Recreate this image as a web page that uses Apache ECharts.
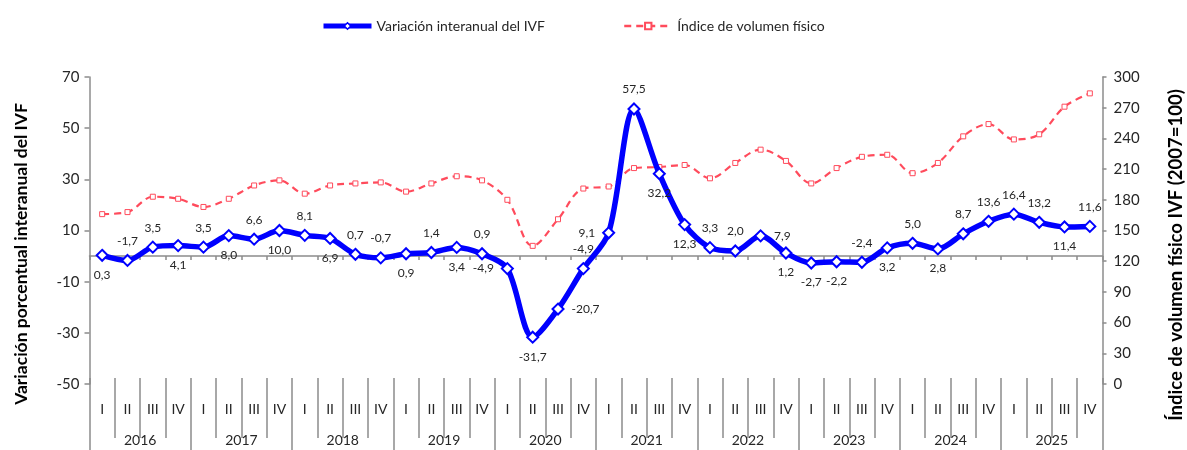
<!DOCTYPE html>
<html>
<head>
<meta charset="utf-8">
<script src="https://cdn.jsdelivr.net/npm/echarts@6/dist/echarts.min.js"></script>
<style>
    html, body {margin: 0; padding: 0; background: #fff;}
    #chart {width: 1187px; height: 450px;}
</style>
</head>
<body>
<div id="chart"></div>
<script>
var FONT = 'Lato';
var quarters = ['I', 'II', 'III', 'IV'];
var years = ['2016', '2017', '2018', '2019', '2020', '2021', '2022', '2023', '2024', '2025'];
// variación interanual (%)
var variacion = [0.3, -1.7, 3.5, 4.1, 3.5, 8.0, 6.6, 10.0, 8.1, 6.9, 0.7, -0.7, 0.9, 1.4, 3.4, 0.9,
    -4.9, -31.7, -20.7, -4.9, 9.1, 57.5, 32.2, 12.3, 3.3, 2.0, 7.9, 1.2, -2.7, -2.2, -2.4, 3.2,
    5.0, 2.8, 8.7, 13.6, 16.4, 13.2, 11.4, 11.6];
// índice de volumen físico (2007=100)
var indice = [166, 168, 183, 181, 173, 181, 194, 199, 186, 194, 196, 197, 188, 196, 203, 199,
    180, 135, 161, 191, 193, 211, 212, 214, 201, 216, 229, 218, 196, 211, 222, 224,
    206, 216, 242, 254, 239, 244, 271, 284];
// lado de la etiqueta de cada punto
var labelSide = ['bottom', 'top', 'top', 'bottom', 'top', 'bottom', 'top', 'bottom', 'top', 'bottom',
    'top', 'top', 'bottom', 'top', 'bottom', 'top', 'left', 'bottom', 'right', 'top',
    'left', 'top', 'bottom', 'bottom', 'top', 'top', 'right', 'bottom', 'bottom', 'bottom',
    'top', 'bottom', 'top', 'bottom', 'top', 'top', 'top', 'top', 'bottom', 'top'];

var categories = [];
years.forEach(function(y){
    quarters.forEach(function(q){
        categories.push(y + ' ' + q);
    });
});
var quarterLabels = [];
years.forEach(function(){
    quarterLabels = quarterLabels.concat(quarters);
});

function fmt(v){
    return v.toFixed(1).replace('.', ',');
}

var AXIS_COLOR = '#8c8c8c';
var TEXT_COLOR = '#262626';
var BLUE = '#0000FF';
var RED = '#FF4B5C';

var variacionData = variacion.map(function(v, i){
    return {
        value: v,
        label: {position: labelSide[i]}
    };
});

var myChart = echarts.init(document.getElementById('chart'));
var option = {
    animation: false,
    textStyle: {fontFamily: FONT},
    legend: {
        top: 14,
        left: 316,
        itemWidth: 48,
        itemHeight: 8,
        itemGap: 78,
        textStyle: {fontFamily: FONT, fontSize: 14, color: TEXT_COLOR},
        data: [{
            name: 'Variación interanual del IVF',
            lineStyle: {width: 5},
            itemStyle: {borderWidth: 1.5}
        }, {
            name: 'Índice de volumen físico',
            lineStyle: {width: 2.5}
        }]
    },
    grid: {left: 89.5, right: 84.5, top: 77, bottom: 66, containLabel: false},
    xAxis: [{
        type: 'category',
        data: categories,
        boundaryGap: true,
        axisLine: {onZero: true, onZeroAxisIndex: 0, lineStyle: {color: AXIS_COLOR, width: 1.5}},
        axisTick: {show: true, interval: 0, length: 4, lineStyle: {color: AXIS_COLOR, width: 1.5}},
        axisLabel: {show: false},
        splitLine: {show: false}
    }, {
        type: 'category',
        data: quarterLabels,
        position: 'bottom',
        offset: -6,
        boundaryGap: true,
        axisLine: {show: false, onZero: false},
        axisTick: {show: true, interval: 0, length: 60, lineStyle: {color: AXIS_COLOR, width: 1.5}},
        axisLabel: {interval: 0, margin: 24, fontSize: 14, color: TEXT_COLOR, fontFamily: FONT},
        splitLine: {show: false}
    }, {
        type: 'category',
        data: years,
        position: 'bottom',
        offset: -6,
        boundaryGap: true,
        axisLine: {show: false, onZero: false},
        axisTick: {show: true, interval: 0, length: 72, lineStyle: {color: AXIS_COLOR, width: 1.5}},
        axisLabel: {interval: 0, margin: 55, fontSize: 14, color: TEXT_COLOR, fontFamily: FONT},
        splitLine: {show: false}
    }],
    yAxis: [{
        type: 'value',
        position: 'left',
        min: -50,
        max: 70,
        interval: 20,
        axisLine: {show: true, lineStyle: {color: AXIS_COLOR, width: 1.5}},
        axisTick: {show: true, length: 5, lineStyle: {color: AXIS_COLOR, width: 1.5}},
        axisLabel: {fontSize: 15, color: TEXT_COLOR, margin: 10, fontFamily: FONT},
        splitLine: {show: false}
    }, {
        type: 'value',
        position: 'right',
        min: 0,
        max: 300,
        interval: 30,
        axisLine: {show: true, lineStyle: {color: AXIS_COLOR, width: 1.5}},
        axisTick: {show: true, length: 4, lineStyle: {color: AXIS_COLOR, width: 1.5}},
        axisLabel: {fontSize: 15, color: TEXT_COLOR, margin: 11, fontFamily: FONT},
        splitLine: {show: false}
    }],
    graphic: [{
        type: 'text',
        x: 21,
        y: 254,
        rotation: Math.PI / 2,
        style: {
            text: 'Variación porcentual interanual del IVF',
            font: 'bold 17.5px ' + FONT,
            fill: '#000',
            align: 'center',
            verticalAlign: 'middle'
        }
    }, {
        type: 'text',
        x: 1176,
        y: 255,
        rotation: Math.PI / 2,
        style: {
            text: 'Índice de volumen físico IVF (2007=100)',
            font: 'bold 18.5px ' + FONT,
            fill: '#000',
            align: 'center',
            verticalAlign: 'middle'
        }
    }],
    series: [{
        name: 'Índice de volumen físico',
        type: 'line',
        xAxisIndex: 0,
        yAxisIndex: 1,
        data: indice,
        smooth: 0.35,
        symbol: 'rect',
        symbolSize: 5,
        lineStyle: {color: RED, width: 2.2, type: [7, 5]},
        itemStyle: {color: '#fff', borderColor: RED, borderWidth: 1},
        z: 2
    }, {
        name: 'Variación interanual del IVF',
        type: 'line',
        xAxisIndex: 0,
        yAxisIndex: 0,
        data: variacionData,
        smooth: 0.3,
        symbol: 'diamond',
        symbolSize: 11,
        lineStyle: {color: BLUE, width: 5.5},
        itemStyle: {color: '#fff', borderColor: BLUE, borderWidth: 2},
        label: {
            show: true,
            fontSize: 12,
            color: TEXT_COLOR,
            fontFamily: FONT,
            distance: 7,
            formatter: function(p){
                return fmt(p.value);
            }
        },
        z: 3
    }]
};
myChart.setOption(option);
</script>
</body>
</html>
